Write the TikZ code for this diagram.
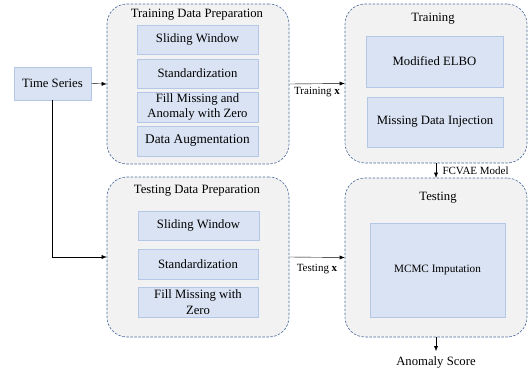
\documentclass[tikz,border=0pt]{standalone}
\usepackage{fontspec}
\setmainfont{Liberation Serif}
\usepackage{amsmath}
\usetikzlibrary{arrows.meta,positioning,calc}
\definecolor{boxgray}{HTML}{F2F2F2}
\definecolor{boxedge}{HTML}{4A6A9E}
\definecolor{stepfill}{HTML}{DAE3F3}
\definecolor{stepedge}{HTML}{B4C7E7}

\begin{document}
\begin{tikzpicture}[x=1pt,y=-1pt,
        stagebox/.style={draw=boxedge,dash pattern=on 2.5pt off 1.5pt,fill=boxgray,rounded corners=20pt,line width=0.6pt},
        stepbox/.style={draw=stepedge,fill=stepfill,line width=0.8pt,align=center,inner sep=0pt,font=\fontsize{12.7}{15.5}\selectfont},
        stagetitle/.style={font=\fontsize{12.7}{15}\selectfont},
        edgelabel/.style={font=\fontsize{11}{13}\selectfont},
        >={Latex[length=5pt,width=4pt]}]
        \useasboundingbox (0,0) rectangle (531,375);
        % input
        \node[stepbox,minimum width=77pt,minimum height=33pt] (ts) at (52.5,83.5) {Time Series};
        % training data preparation
        \node[stagebox,minimum width=182pt,minimum height=160pt] (trprep) at (198,84) {};
        \node[stagetitle] (trprept) at (197,15) {Training Data Preparation};
        \node[stepbox,minimum width=121pt,minimum height=29pt] (trsw) at (197.5,39.5) {Sliding Window};
        \node[stepbox,minimum width=121pt,minimum height=29pt] (trstd) at (197.5,73.5) {Standardization};
        \node[stepbox,minimum width=121pt,minimum height=30pt] (trfill) at (197.5,107) {Fill Missing and\\Anomaly with Zero};
        \node[stepbox,minimum width=121pt,minimum height=30pt,font=\fontsize{13.3}{15}\selectfont] (traug) at (197.5,141) {Data Augmentation};
        % training
        \node[stagebox,minimum width=182pt,minimum height=159pt] (train) at (436,83.5) {};
        \node[stagetitle] (traint) at (433,19) {Training};
        \node[stepbox,minimum width=137pt,minimum height=51pt] (elbo) at (434.5,61.5) {Modified ELBO};
        \node[stepbox,minimum width=136pt,minimum height=50pt] (inject) at (435,122) {Missing Data Injection};
        % testing data preparation
        \node[stagebox,minimum width=182pt,minimum height=160pt] (teprep) at (198,257) {};
        \node[stagetitle] (teprept) at (197,191) {Testing Data Preparation};
        \node[stepbox,minimum width=121pt,minimum height=29pt] (tesw) at (198.5,225.5) {Sliding Window};
        \node[stepbox,minimum width=120pt,minimum height=30pt] (testd) at (198,264) {Standardization};
        \node[stepbox,minimum width=120pt,minimum height=30pt] (tefill) at (198,302) {Fill Missing with\\Zero};
        % testing
        \node[stagebox,minimum width=182pt,minimum height=159pt] (test) at (436,257.5) {};
        \node[stagetitle] (testt) at (438,198) {Testing};
        \node[stepbox,minimum width=135pt,minimum height=94pt,font=\fontsize{11.2}{13}\selectfont] (mcmc) at (437.5,270) {MCMC Imputation};
        \node[stagetitle,inner sep=0pt] (score) at (436,362) {Anomaly Score};
        % connectors
        \draw[->] (ts.east) -- (trprep.west);
        \draw[->] (trprep.east) -- node[edgelabel,below] {Training $\mathbf{x}$} (train.west);
        \draw[->] (ts.south) |- (teprep.west);
        \draw[->] (teprep.east) -- node[edgelabel,below=3pt] {Testing $\mathbf{x}$} (test.west);
        \draw[->] (train.south) -- node[edgelabel,right=3pt] {FCVAE Model} (test.north);
        \draw[->] (test.south) -- ([yshift=5pt]score.north);
    \end{tikzpicture}
\end{document}
